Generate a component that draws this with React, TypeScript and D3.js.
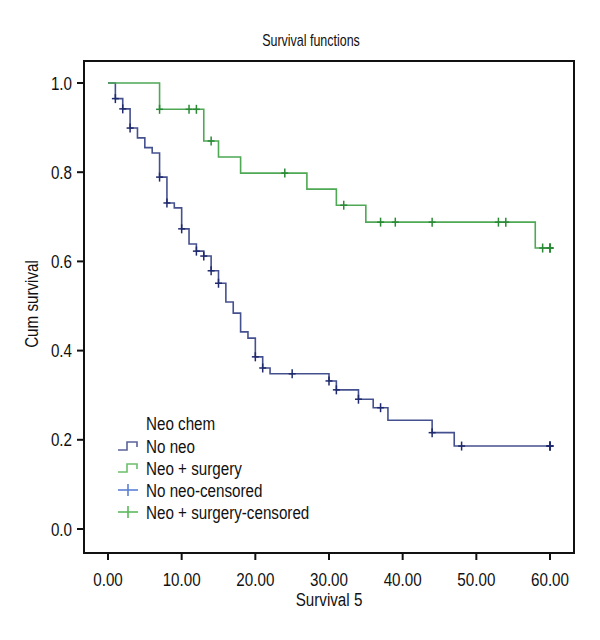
import React from "react";
import * as d3 from "d3";

// ---- Data ----
const xTicks = [0, 10, 20, 30, 40, 50, 60];
const yTicks = [0, 0.2, 0.4, 0.6, 0.8, 1.0];

const noNeoTimes = [0, 1, 2, 3, 4, 5, 6, 7, 8, 9, 10, 11, 12, 13, 14, 15, 16, 17, 18, 19, 20, 21, 22, 30, 31, 34, 36, 38, 44, 47, 60];
const noNeoSurv = [1, 0.965, 0.942, 0.899, 0.877, 0.855, 0.843, 0.789, 0.731, 0.72, 0.673, 0.639, 0.623, 0.612, 0.579, 0.551, 0.509, 0.484, 0.442, 0.428, 0.386, 0.361, 0.348, 0.332, 0.312, 0.291, 0.272, 0.244, 0.216, 0.186, 0.186];
const noNeoCensored = [1, 2, 3, 7, 8, 10, 12, 13, 14, 15, 20, 21, 25, 30, 31, 34, 37, 44, 48, 60, 60, 60];

const neoTimes = [0, 7, 13, 15, 18, 27, 31, 35, 58, 60];
const neoSurv = [1, 0.941, 0.87, 0.834, 0.798, 0.762, 0.726, 0.688, 0.63, 0.63];
const neoCensored = [7, 11, 12, 14, 24, 32, 37, 39, 44, 53, 54, 59, 60, 60, 60];

const legendTitle = "Neo chem";
const legendLabels = ["No neo", "Neo + surgery", "No neo-censored", "Neo + surgery-censored"];

const FONT = "'Liberation Sans', Arial, sans-serif";
const SX = 0.8; // horizontal condensing

const BLUE_LINE = "#45508f";
const BLUE_MARK = "#1f2a6e";
const GREEN_LINE = "#4ea854";
const GREEN_MARK = "#2a8a36";

function survAt(times: number[], surv: number[], t: number) {
  let v = surv[0];
  for (let i = 0; i < times.length; i++) {
    if (times[i] <= t) v = surv[i];
  }
  return v;
}

function T(props: { x: number; y: number; size: number; anchor?: string; rotate?: number; dy?: string; sx?: number; children: React.ReactNode }) {
  const { x, y, size, anchor = "start", rotate = 0, dy, sx = SX, children } = props;
  return (
    <text
      transform={`translate(${x},${y}) rotate(${rotate}) scale(${sx},1)`}
      textAnchor={anchor}
      fontSize={size}
      dy={dy}
      fill="#111"
    >
      {children}
    </text>
  );
}

export default function App() {
  const frame = { left: 84, right: 574, top: 61, bottom: 553 };
  const x = d3.scaleLinear().domain([0, 60]).range([108, 550]);
  const y = d3.scaleLinear().domain([0, 1]).range([529, 83]);

  const line = d3
    .line<[number, number]>()
    .x((d) => x(d[0]))
    .y((d) => y(d[1]))
    .curve(d3.curveStepAfter);

  const blueData: [number, number][] = noNeoTimes.map((t, i) => [t, noNeoSurv[i]]);
  const greenData: [number, number][] = neoTimes.map((t, i) => [t, neoSurv[i]]);

  const plus = (cx: number, cy: number, color: string, key: string, w = 3.5, h = 4.5, sw = 1.5) => (
    <g key={key} stroke={color} strokeWidth={sw}>
      <line x1={cx - w} x2={cx + w} y1={cy} y2={cy} />
      <line x1={cx} x2={cx} y1={cy - h} y2={cy + h} />
    </g>
  );

  const legendX = 118;
  const legendTextX = 146;
  const legendRows = [446, 468, 490, 512];

  return (
    <svg
      width={600}
      height={640}
      style={{ position: "absolute", left: 0, top: 0, background: "#fff" }}
      fontFamily={FONT}
    >
      <rect x={0} y={0} width={600} height={640} fill="#fff" />
      {/* title */}
      <T x={311} y={46} size={16} sx={0.78} anchor="middle">
        Survival functions
      </T>

      {/* frame */}
      <rect
        x={frame.left}
        y={frame.top}
        width={frame.right - frame.left}
        height={frame.bottom - frame.top}
        fill="none"
        stroke="#111"
        strokeWidth={2}
      />

      {/* y axis */}
      {yTicks.map((t) => (
        <g key={"y" + t}>
          <line x1={frame.left - 7} x2={frame.left} y1={y(t)} y2={y(t)} stroke="#111" strokeWidth={2} />
          <T x={72} y={y(t)} dy="0.35em" size={19} anchor="end">
            {t.toFixed(1)}
          </T>
        </g>
      ))}
      <T x={38} y={304} size={19} anchor="middle" rotate={-90}>
        Cum survival
      </T>

      {/* x axis */}
      {xTicks.map((t) => (
        <g key={"x" + t}>
          <line x1={x(t)} x2={x(t)} y1={frame.bottom} y2={frame.bottom + 7} stroke="#111" strokeWidth={2} />
          <T x={x(t)} y={586} size={19} anchor="middle">
            {t.toFixed(2)}
          </T>
        </g>
      ))}
      <T x={x(30)} y={606} size={19} anchor="middle">
        Survival 5
      </T>

      {/* curves */}
      <path d={line(blueData) || ""} fill="none" stroke={BLUE_LINE} strokeWidth={1.6} />
      {noNeoCensored.map((t, i) => plus(x(t), y(survAt(noNeoTimes, noNeoSurv, t)), BLUE_MARK, "bc" + i))}
      <path d={line(greenData) || ""} fill="none" stroke={GREEN_LINE} strokeWidth={1.6} />
      {neoCensored.map((t, i) => plus(x(t), y(survAt(neoTimes, neoSurv, t)), GREEN_MARK, "gc" + i))}

      {/* legend */}
      <T x={legendTextX} y={423} dy="0.35em" size={19}>
        {legendTitle}
      </T>
      <path
        d={`M${legendX},${legendRows[0] + 4}H${legendX + 9}V${legendRows[0] - 4}H${legendX + 19}V${legendRows[0] + 1}`}
        fill="none"
        stroke="#5b6399"
        strokeWidth={1.6}
      />
      <path
        d={`M${legendX},${legendRows[1] + 4}H${legendX + 9}V${legendRows[1] - 4}H${legendX + 19}V${legendRows[1] + 1}`}
        fill="none"
        stroke="#6cbf6c"
        strokeWidth={1.6}
      />
      {plus(legendX + 10, legendRows[2], "#5b7fd6", "l2", 10, 6, 1.6)}
      {plus(legendX + 10, legendRows[3], "#5cb85c", "l3", 10, 6, 1.6)}
      {legendLabels.map((lab, i) => (
        <T key={lab} x={legendTextX} y={legendRows[i]} dy="0.35em" size={19}>
          {lab}
        </T>
      ))}
    </svg>
  );
}
